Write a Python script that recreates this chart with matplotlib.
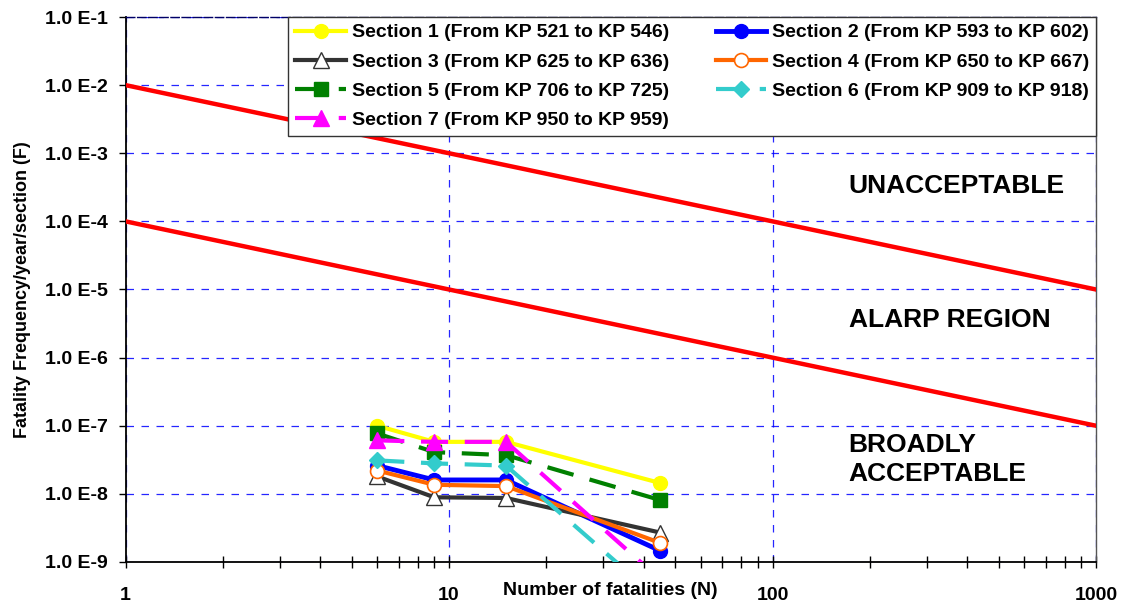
import numpy as np
import matplotlib
matplotlib.use("Agg")
import matplotlib.pyplot as plt
from matplotlib.ticker import FixedLocator, LogLocator, NullFormatter, NullLocator

plt.rcParams['font.family'] = ['Liberation Sans', 'DejaVu Sans']
plt.rcParams['font.weight'] = 'bold'
plt.rcParams['axes.labelweight'] = 'bold'

# number of fatalities for each F-N point
n_pts = [6, 9, 15, 45]

# frequency per year per section for each pipeline section
sec1 = [1.0e-7, 5.8e-8, 5.8e-8, 1.44e-8]
sec2 = [2.6e-8, 1.6e-8, 1.6e-8, 1.46e-9]
sec3 = [1.8e-8, 8.9e-9, 8.7e-9, 2.7e-9]
sec4 = [2.2e-8, 1.36e-8, 1.3e-8, 1.9e-9]
sec5 = [7.7e-8, 4.1e-8, 3.7e-8, 8.1e-9]
sec6 = [3.1e-8, 2.8e-8, 2.6e-8, 2.7e-10]
sec7 = [6.1e-8, 5.8e-8, 5.8e-8, 5.5e-10]

labels = ["Section 1 (From KP 521 to KP 546)",
          "Section 2 (From KP 593 to KP 602)",
          "Section 3 (From KP 625 to KP 636)",
          "Section 4 (From KP 650 to KP 667)",
          "Section 5 (From KP 706 to KP 725)",
          "Section 6 (From KP 909 to KP 918)",
          "Section 7 (From KP 950 to KP 959)"]

# criterion lines F = C / N
n_crit = [1, 1000]
upper_c = 1e-2
lower_c = 1e-4

yticks = [1e-9, 1e-8, 1e-7, 1e-6, 1e-5, 1e-4, 1e-3, 1e-2, 1e-1]
ytick_labels = ["1.0 E-9", "1.0 E-8", "1.0 E-7", "1.0 E-6", "1.0 E-5",
                "1.0 E-4", "1.0 E-3", "1.0 E-2", "1.0 E-1"]
xticks = [1, 10, 100, 1000]
xtick_labels = ["1", "10", "100", "1000"]

fig = plt.figure(figsize=(11.21, 6.05), dpi=100)
ax = fig.add_axes([0.112, 0.0711, 0.8657, 0.9008])

# risk criterion lines
ax.plot(n_crit, [upper_c / n for n in n_crit], color='#ff0000', lw=3.2, zorder=3)
ax.plot(n_crit, [lower_c / n for n in n_crit], color='#ff0000', lw=3.2, zorder=3)

dash = (0, (6.5, 4))
styles = [
    dict(color='#ffff00', lw=3, marker='o', ms=10, mfc='#ffff00', mec='#ffff00'),
    dict(color='#0000ff', lw=3.5, marker='o', ms=10, mfc='#0000ff', mec='#0000ff'),
    dict(color='#333333', lw=3, marker='^', ms=11, mfc='white', mec='#333333', mew=1),
    dict(color='#ff6600', lw=3, marker='o', ms=10, mfc='white', mec='#ff6600', mew=1.2),
    dict(color='#008000', lw=3, ls=dash, marker='s', ms=10, mfc='#008000', mec='#008000'),
    dict(color='#33cccc', lw=3, ls=dash, marker='D', ms=8, mfc='#33cccc', mec='#33cccc'),
    dict(color='#ff00ff', lw=3, ls=dash, marker='^', ms=11, mfc='#ff00ff', mec='#ff00ff'),
]
series = [sec1, sec2, sec3, sec4, sec5, sec6, sec7]
handles = []
for i, (vals, st) in enumerate(zip(series, styles)):
    h, = ax.plot(n_pts, vals, label=labels[i], zorder=4 + i, **st)
    handles.append(h)

ax.set_xscale('log')
ax.set_yscale('log')
ax.set_xlim(1, 1000)
ax.set_ylim(1e-9, 1e-1)

ax.yaxis.set_major_locator(FixedLocator(yticks))
ax.set_yticklabels(ytick_labels)
ax.yaxis.set_minor_locator(NullLocator())
ax.xaxis.set_major_locator(FixedLocator(xticks))
ax.set_xticklabels(xtick_labels)
ax.xaxis.set_minor_locator(LogLocator(base=10, subs=np.arange(2, 10)))
ax.xaxis.set_minor_formatter(NullFormatter())

ax.tick_params(axis='y', which='major', direction='out', length=5, width=1,
               pad=8, labelsize=14)
ax.tick_params(axis='x', which='both', direction='inout', length=8, width=1,
               pad=14, labelsize=14)

ax.grid(True, which='major', color='#0000ff', lw=0.9, ls=(0, (6, 6)), alpha=0.85)

for side in ['left', 'bottom']:
    ax.spines[side].set_linewidth(1.3)
    ax.spines[side].set_color('black')
ax.spines['right'].set_color('#555555')
ax.spines['right'].set_linewidth(1)
ax.spines['top'].set_color('#000066')
ax.spines['top'].set_linewidth(1)
ax.spines['top'].set_linestyle((0, (6, 2)))

ax.set_ylabel("Fatality Frequency/year/section (F)", fontsize=13, labelpad=10)
ax.set_xlabel("Number of fatalities (N)", fontsize=14)
ax.xaxis.set_label_coords(0.5, -0.036)

ax.text(172, 3.3e-4, "UNACCEPTABLE", fontsize=19, ha='left', va='center')
ax.text(172, 3.6e-6, "ALARP REGION", fontsize=19, ha='left', va='center')
ax.text(172, 3.2e-8, "BROADLY\nACCEPTABLE", fontsize=19, ha='left', va='center',
        linespacing=1.3)

order = [0, 2, 4, 6, 1, 3, 5]
leg = ax.legend([handles[i] for i in order], [labels[i] for i in order],
                ncol=2, loc='upper right', bbox_to_anchor=(1, 1),
                borderaxespad=0, fontsize=14, handlelength=2.6,
                handletextpad=0.3, columnspacing=2.4, labelspacing=0.6,
                borderpad=0.35, fancybox=False, framealpha=1,
                edgecolor='#333333')
leg.get_frame().set_linewidth(1)
leg.set_zorder(20)

fig.savefig("out.png", dpi=100)
